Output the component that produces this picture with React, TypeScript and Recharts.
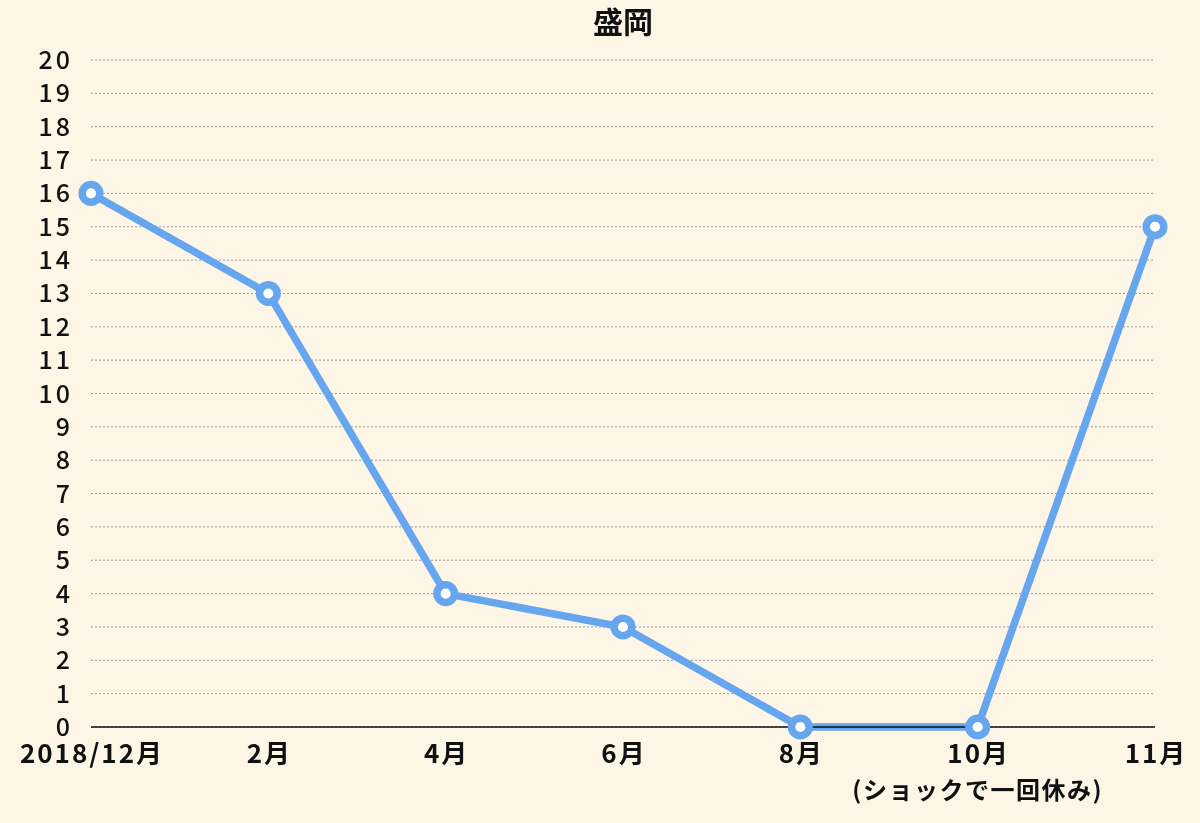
import React from "react";
import { LineChart, Line, XAxis, YAxis, CartesianGrid } from "recharts";

const categories = ["2018/12月", "2月", "4月", "6月", "8月", "10月", "11月"];
const subLabels = ["", "", "", "", "", "(ショックで一回休み)", ""];
const values = [16, 13, 4, 3, 0, 0, 15];
const yTicks = [0, 1, 2, 3, 4, 5, 6, 7, 8, 9, 10, 11, 12, 13, 14, 15, 16, 17, 18, 19, 20];
const title = "盛岡";

const data = categories.map((c, i) => ({ name: c, value: values[i] }));

const FONT = "'Noto Sans CJK JP', 'Noto Sans', sans-serif";
const BG = "#FDF5E6";
const BLUE = "#66A6EE";

const XTick = (props: any) => {
  const { x, y, payload, index } = props;
  const sub = subLabels[index];
  return (
    <g>
      <text x={x + 1} y={y + 28} textAnchor="middle" fontFamily={FONT} fontWeight={700} fontSize={26} letterSpacing={2} fill="#111">
        {payload.value}
      </text>
      {sub ? (
        <text x={x} y={y + 64} textAnchor="middle" fontFamily={FONT} fontWeight={700} fontSize={24} letterSpacing={1.5} fill="#111">
          {sub}
        </text>
      ) : null}
    </g>
  );
};

const YTick = (props: any) => {
  const { y, payload } = props;
  return (
    <text x={73} y={y + 9} textAnchor="end" fontFamily={FONT} fontWeight={500} fontSize={25} letterSpacing={3} fill="#111">
      {payload.value}
    </text>
  );
};

export default function App() {
  return (
    <div style={{ position: "fixed", left: 0, top: 0, width: 1200, height: 823, background: BG }}>
      <div
        style={{
          position: "absolute",
          left: 91,
          width: 1064,
          top: 5,
          lineHeight: "30px",
          textAlign: "center",
          fontFamily: FONT,
          fontWeight: 700,
          fontSize: 30,
          color: "#111",
        }}
      >
        {title}
      </div>
      <LineChart width={1200} height={823} data={data} margin={{ top: 60, right: 45, bottom: 0, left: 0 }}>
        <CartesianGrid vertical={false} stroke="#999" strokeDasharray="2 2" />
        <XAxis
          dataKey="name"
          axisLine={{ stroke: "#111", strokeWidth: 1.5 }}
          tickLine={false}
          tick={<XTick />}
          interval={0}
          height={96}
          padding={{ left: 0, right: 0 }}
        />
        <YAxis
          domain={[0, 20]}
          ticks={yTicks}
          interval={0}
          axisLine={false}
          tickLine={false}
          width={91}
          tick={(p: any) => <YTick {...p} />}
        />
        <Line
          type="linear"
          dataKey="value"
          stroke={BLUE}
          strokeWidth={7.5}
          dot={{ r: 8.8, fill: "#fff", stroke: BLUE, strokeWidth: 7.5 }}
          activeDot={false}
          isAnimationActive={false}
        />
      </LineChart>
    </div>
  );
}
